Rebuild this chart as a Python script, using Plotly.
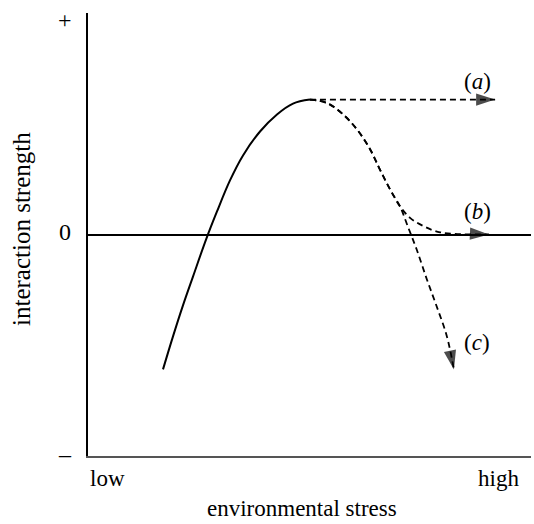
import plotly.graph_objects as go

# solid rising curve
stress_rise = [1.693, 1.919, 2.144, 2.370, 2.664, 2.912, 3.205, 3.499, 3.883, 4.266, 4.628, 5.011]
strength_rise = [-0.609, -0.460, -0.320, -0.190, -0.023, 0.104, 0.244, 0.357, 0.465, 0.542, 0.591, 0.609]

# dashed branch (a): stays high
stress_a = [5.01, 9.19]
strength_a = [0.609, 0.609]

# dashed branch (b): falls to zero
stress_b = [5.01, 5.39, 5.76, 6.10, 6.37, 6.59, 6.82, 7.04, 7.27, 7.57, 7.95, 9.05]
strength_b = [0.609, 0.594, 0.542, 0.467, 0.384, 0.293, 0.203, 0.128, 0.075, 0.038, 0.010, 0.0]

# dashed branch (c): falls negative
stress_c = [5.01, 5.39, 5.76, 6.10, 6.37, 6.59, 6.82, 7.04, 7.22, 7.42, 7.65, 7.87, 8.10, 8.26]
strength_c = [0.609, 0.594, 0.542, 0.467, 0.384, 0.293, 0.203, 0.128, 0.036, -0.068, -0.203, -0.324, -0.459, -0.609]

y_tick_labels = ["+", "0", "\u2013"]
x_labels = ["low", "high"]
branch_labels = ["(<i>a</i>)", "(<i>b</i>)", "(<i>c</i>)"]

FONT = "Liberation Serif, Times New Roman, serif"

fig = go.Figure()
fig.add_trace(go.Scatter(x=stress_rise, y=strength_rise, mode="lines",
                         line=dict(color="black", width=2, shape="spline", smoothing=1.0),
                         hoverinfo="skip"))


def dashed(xs, ys):
    sizes = [0] * (len(xs) - 1) + [20]
    fig.add_trace(go.Scatter(x=xs, y=ys, mode="lines+markers",
                             line=dict(color="black", width=1.8, dash="6px,4px",
                                       shape="spline", smoothing=1.0),
                             marker=dict(symbol="arrow", size=sizes, color="black",
                                         angleref="previous", line=dict(width=0)),
                             hoverinfo="skip"))


dashed(stress_a, strength_a)
dashed(stress_b, strength_b)
dashed(stress_c, strength_c)


def px(xd):
    return xd / 10.0


def py(yd):
    return (yd + 1) / 2.0


ann = []
tick_y = [0.97, 0.01, -0.99]
for t, yv in zip(y_tick_labels, tick_y):
    ann.append(dict(x=px(-0.52), y=py(yv), text=t, xanchor="center", yanchor="middle", size=24))
ann.append(dict(x=px(0.0), y=py(-1.10), text=x_labels[0], xanchor="left", yanchor="middle", size=23))
ann.append(dict(x=px(9.77), y=py(-1.10), text=x_labels[1], xanchor="right", yanchor="middle", size=23))
ann.append(dict(x=px(4.83), y=py(-1.237), text="environmental stress",
                xanchor="center", yanchor="middle", size=23))
ann.append(dict(x=px(-1.49), y=py(0.025), text="interaction strength", textangle=-90,
                xanchor="center", yanchor="middle", size=25))
for t, xv, yv in zip(branch_labels, [8.80, 8.80, 8.78], [0.69, 0.104, -0.488]):
    ann.append(dict(x=px(xv), y=py(yv), text=t, xanchor="center", yanchor="middle", size=23))
for a in ann:
    a["xref"] = "paper"
    a["yref"] = "paper"
    a["showarrow"] = False
    a["font"] = dict(family=FONT, size=a.pop("size"), color="black")

fig.update_layout(
    width=534, height=524,
    margin=dict(l=88, r=3, t=13, b=68),
    paper_bgcolor="white", plot_bgcolor="white",
    showlegend=False,
    annotations=ann,
    xaxis=dict(range=[0, 10], showline=True, linecolor="#555", linewidth=1.6,
               showgrid=False, zeroline=False, showticklabels=False, ticks=""),
    yaxis=dict(range=[-1, 1], showline=True, linecolor="black", linewidth=1.6,
               showgrid=False, zeroline=True, zerolinecolor="black", zerolinewidth=2,
               showticklabels=False, ticks=""),
)

fig.write_html("out.html")
